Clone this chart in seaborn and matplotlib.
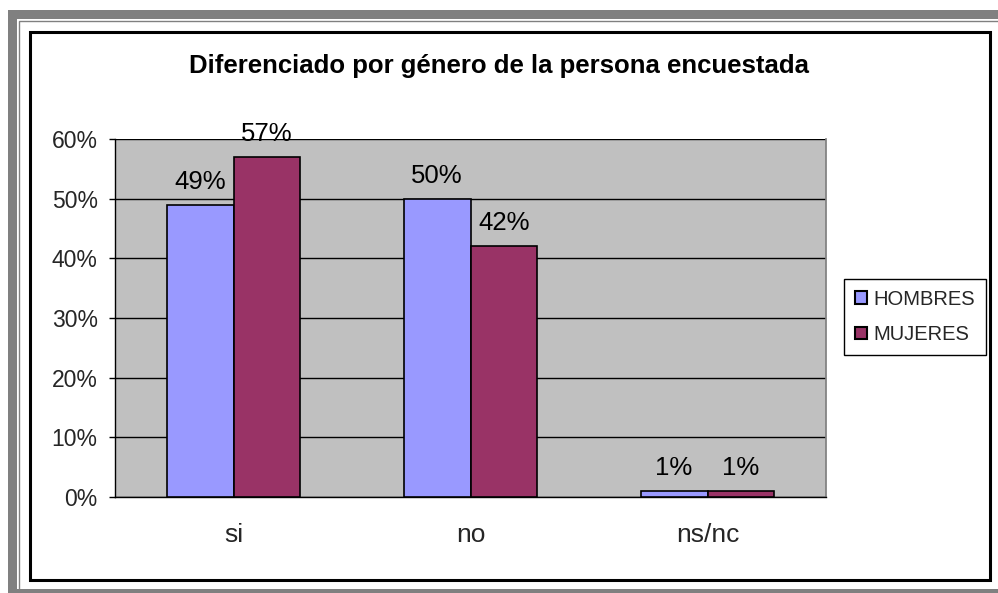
import pandas as pd
import matplotlib.pyplot as plt
import seaborn as sns
from matplotlib.patches import Rectangle
from matplotlib.ticker import PercentFormatter, FixedLocator

# === Data ===
respuestas = ["si", "no", "ns/nc"]
hombres = [0.49, 0.50, 0.01]
mujeres = [0.57, 0.42, 0.01]
generos = ["HOMBRES", "MUJERES"]
colores = ["#9999FF", "#993366"]

df = pd.DataFrame({
    "respuesta": respuestas * 2,
    "valor": hombres + mujeres,
    "genero": [generos[0]] * 3 + [generos[1]] * 3,
})

# === Style ===
sns.set_theme(style="white")
plt.rcParams["font.family"] = ["Liberation Sans", "DejaVu Sans"]

W, H = 998, 593
fig = plt.figure(figsize=(W / 100, H / 100), dpi=100)


def px_rect(x0, y0, x1, y1, **kw):
    # rectangle given in pixel coords (top-left origin)
    r = Rectangle((x0 / W, 1 - y1 / H), (x1 - x0) / W, (y1 - y0) / H,
                  transform=fig.transFigure, zorder=-10, **kw)
    fig.patches.append(r)


# Frame: gray band, thin gray line, black border
px_rect(8, 10, 1010, 610, facecolor="#808080", edgecolor="none")
px_rect(17, 19, 1010, 589, facecolor="white", edgecolor="none")
px_rect(19, 20.5, 1010, 589.5, facecolor="none", edgecolor="#808080", linewidth=1)
px_rect(29.5, 31.5, 990, 580, facecolor="none", edgecolor="black", linewidth=2.2)

# === Axes ===
ax = fig.add_axes([115 / W, 1 - 497 / H, (826 - 115) / W, (497 - 139) / H])
ax.set_facecolor("#C0C0C0")

sns.barplot(data=df, x="respuesta", y="valor", hue="genero", palette=colores,
            width=0.565, gap=0, edgecolor="black", linewidth=1.2, ax=ax,
            saturation=1, zorder=3)

for cont in ax.containers:
    ax.bar_label(cont, labels=[f"{v * 100:.0f}%" for v in cont.datavalues],
                 padding=8, fontsize=18.5, color="black")

ax.set_ylim(0, 0.6)
ax.set_xlim(-0.5, 2.5)
ax.yaxis.set_major_locator(FixedLocator([i / 10 for i in range(7)]))
ax.yaxis.set_major_formatter(PercentFormatter(1.0, decimals=0))
ax.yaxis.grid(True, color="black", linewidth=1, zorder=1)
ax.set_axisbelow(True)

# category labels without ticks, tick marks at boundaries
ax.tick_params(axis="x", which="major", length=0, labelsize=19, pad=19)
ax.set_xticks([-0.5, 0.5, 1.5, 2.5], minor=True)
ax.tick_params(axis="x", which="minor", length=5, width=1, color="black", direction="out")
ax.tick_params(axis="y", length=4.5, width=1, color="black", direction="out",
               left=True, labelsize=16.5, pad=8)

for side in ["left", "bottom"]:
    ax.spines[side].set_color("black")
    ax.spines[side].set_linewidth(1)
ax.spines["right"].set_color("#808080")
ax.spines["top"].set_visible(False)

ax.set_xlabel("")
ax.set_ylabel("")

# === Legend ===
handles, labels = ax.get_legend_handles_labels()
for h in handles:
    h.set_edgecolor("black")
    h.set_linewidth(1.5)
ax.legend(handles, labels, loc="center", bbox_to_anchor=(915 / W, 1 - 317 / H),
          bbox_transform=fig.transFigure, frameon=True, fancybox=False,
          edgecolor="black", framealpha=1, fontsize=14.5, handlelength=0.6,
          handleheight=0.6, handletextpad=0.35, borderpad=0.55, labelspacing=0.8,
          borderaxespad=0)
ax.get_legend().get_frame().set_linewidth(1)

# === Title ===
fig.text(499 / W, 1 - 66 / H, "Diferenciado por género de la persona encuestada",
         ha="center", va="center", fontsize=18.5, fontweight="bold", color="black")

plt.savefig("out.png", dpi=100)
plt.close()
